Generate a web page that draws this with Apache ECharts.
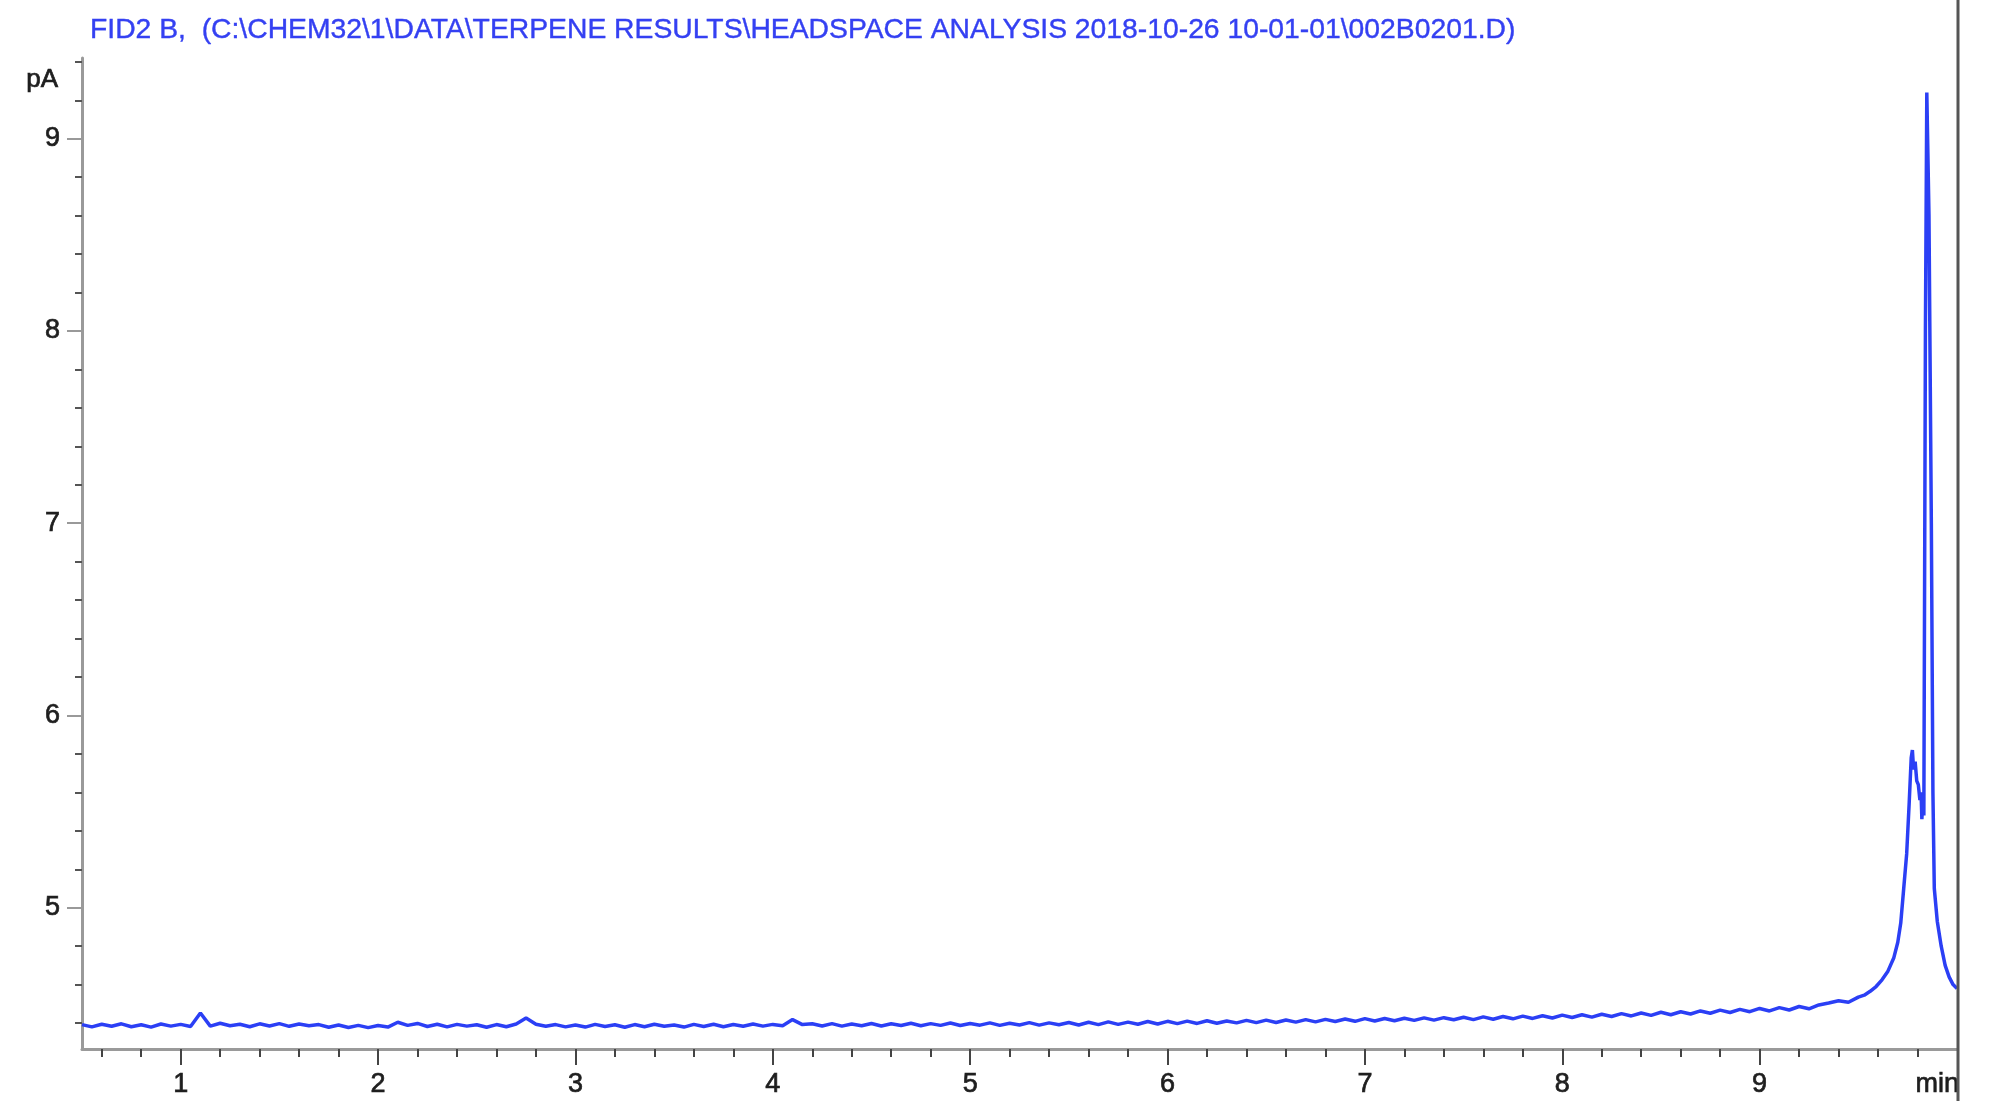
<!DOCTYPE html>
<html>
<head>
<meta charset="utf-8">
<script src="https://cdn.jsdelivr.net/npm/echarts@6/dist/echarts.min.js"></script>
<style>
html,body{margin:0;padding:0;background:#fff;}
#c{width:1990px;height:1101px;}
</style>
</head>
<body>
<div id="c"></div>
<script>
const titleText = 'FID2 B,  (C:\\CHEM32\\1\\DATA\\TERPENE RESULTS\\HEADSPACE ANALYSIS 2018-10-26 10-01-01\\002B0201.D)';
const yUnit = 'pA';
const xUnit = 'min';

// retention time (min)
const times = [
0.50,0.55,0.60,0.65,0.70,0.75,0.80,0.85,0.90,0.95,1.00,1.05,1.10,1.15,1.20,1.25,1.30,1.35,1.40,1.45,
1.50,1.55,1.60,1.65,1.70,1.75,1.80,1.85,1.90,1.95,2.00,2.05,2.10,2.15,2.20,2.25,2.30,2.35,2.40,2.45,
2.50,2.55,2.60,2.65,2.70,2.75,2.80,2.85,2.90,2.95,3.00,3.05,3.10,3.15,3.20,3.25,3.30,3.35,3.40,3.45,
3.50,3.55,3.60,3.65,3.70,3.75,3.80,3.85,3.90,3.95,4.00,4.05,4.10,4.15,4.20,4.25,4.30,4.35,4.40,4.45,
4.50,4.55,4.60,4.65,4.70,4.75,4.80,4.85,4.90,4.95,5.00,5.05,5.10,5.15,5.20,5.25,5.30,5.35,5.40,5.45,
5.50,5.55,5.60,5.65,5.70,5.75,5.80,5.85,5.90,5.95,6.00,6.05,6.10,6.15,6.20,6.25,6.30,6.35,6.40,6.45,
6.50,6.55,6.60,6.65,6.70,6.75,6.80,6.85,6.90,6.95,7.00,7.05,7.10,7.15,7.20,7.25,7.30,7.35,7.40,7.45,
7.50,7.55,7.60,7.65,7.70,7.75,7.80,7.85,7.90,7.95,8.00,8.05,8.10,8.15,8.20,8.25,8.30,8.35,8.40,8.45,
8.50,8.55,8.60,8.65,8.70,8.75,8.80,8.85,8.90,8.95,9.00,9.05,9.10,9.15,9.20,9.25,9.30,9.35,9.40,9.45,
9.50,9.53,9.56,9.59,9.62,9.65,9.68,9.70,9.715,9.73,9.745,9.758,9.768,9.774,9.780,9.788,9.796,9.804,9.812,9.818,
9.822,9.827,9.832,9.840,9.847,9.858,9.870,9.878,9.885,9.900,9.920,9.940,9.960,9.980,10.00
];
// FID signal (pA)
const signal = [
4.392,4.380,4.394,4.383,4.396,4.381,4.391,4.379,4.395,4.384,4.393,4.382,4.452,4.384,4.399,4.386,4.394,4.381,4.396,4.385,
4.397,4.383,4.395,4.386,4.392,4.378,4.390,4.377,4.388,4.376,4.387,4.379,4.404,4.388,4.398,4.382,4.394,4.380,4.393,4.384,
4.391,4.378,4.392,4.381,4.395,4.426,4.394,4.383,4.392,4.380,4.390,4.379,4.393,4.382,4.391,4.378,4.392,4.381,4.394,4.383,
4.390,4.379,4.393,4.382,4.394,4.381,4.392,4.383,4.395,4.384,4.393,4.386,4.418,4.392,4.396,4.385,4.397,4.384,4.395,4.386,
4.398,4.385,4.396,4.387,4.399,4.386,4.397,4.388,4.400,4.387,4.398,4.389,4.401,4.388,4.399,4.390,4.402,4.389,4.401,4.391,
4.403,4.390,4.404,4.392,4.406,4.393,4.405,4.394,4.408,4.395,4.409,4.397,4.410,4.398,4.412,4.399,4.411,4.401,4.414,4.402,
4.415,4.403,4.416,4.405,4.418,4.406,4.419,4.408,4.421,4.409,4.423,4.411,4.424,4.412,4.425,4.414,4.427,4.415,4.428,4.417,
4.430,4.418,4.432,4.420,4.434,4.422,4.436,4.424,4.438,4.426,4.441,4.429,4.443,4.431,4.446,4.434,4.449,4.437,4.452,4.440,
4.456,4.443,4.459,4.447,4.463,4.451,4.467,4.455,4.471,4.459,4.476,4.463,4.480,4.468,4.486,4.474,4.494,4.504,4.516,4.508,
4.535,4.545,4.565,4.590,4.625,4.670,4.740,4.820,4.920,5.100,5.280,5.550,5.780,5.820,5.720,5.760,5.660,5.640,5.560,5.600,
5.460,5.560,5.480,8.000,9.240,8.600,7.000,5.600,5.100,4.930,4.800,4.700,4.640,4.600,4.580
];

const xMajorTicks = [1,2,3,4,5,6,7,8,9];
const xMinorTicks = [0.6,0.8,1.2,1.4,1.6,1.8,2.2,2.4,2.6,2.8,3.2,3.4,3.6,3.8,4.2,4.4,4.6,4.8,
  5.2,5.4,5.6,5.8,6.2,6.4,6.6,6.8,7.2,7.4,7.6,7.8,8.2,8.4,8.6,8.8,9.2,9.4,9.6,9.8];
const yMajorTicks = [5,6,7,8,9];
const yMinorTicks = [4.4,4.6,4.8,5.2,5.4,5.6,5.8,6.2,6.4,6.6,6.8,7.2,7.4,7.6,7.8,8.2,8.4,8.6,8.8,9.2,9.4];
const xRange = [0.5, 10.0];
const yRange = [4.265, 9.42];

const FONT = '"Liberation Sans", Arial, Helvetica, sans-serif';
const chart = echarts.init(document.getElementById('c'), null, {renderer:'canvas'});

const seriesData = times.map((t, i) => [t, signal[i]]);
const labelStyle = {fontFamily: FONT, fontSize: 27, color: '#1e1e1e', textBorderColor: '#1e1e1e', textBorderWidth: 0.7};

const option = {
  animation: false,
  backgroundColor: '#ffffff',
  title: {
    text: titleText,
    left: 85, top: 11,
    textStyle: {fontFamily: FONT, fontSize: 28.3, fontWeight: 'normal', color: '#3440f2', textBorderColor: '#3440f2', textBorderWidth: 0.4}
  },
  grid: {left: 82, right: 33, top: 58, bottom: 52, containLabel: false},
  xAxis: [
    {
      type: 'value', position: 'bottom', min: xRange[0], max: xRange[1],
      axisLine: {show: true, onZero: false, lineStyle: {color: '#9a9a9a', width: 3}},
      axisTick: {show: true, customValues: xMajorTicks, length: 16, lineStyle: {color: '#444', width: 2}},
      axisLabel: Object.assign({show: true, customValues: xMajorTicks, margin: 22}, labelStyle),
      splitLine: {show: false},
      name: xUnit, nameLocation: 'end', nameGap: 2,
      nameTextStyle: Object.assign({align: 'right', verticalAlign: 'top', padding: [22, 0, 0, 0]}, labelStyle)
    },
    {
      type: 'value', position: 'bottom', min: xRange[0], max: xRange[1],
      axisLine: {show: false, onZero: false},
      axisTick: {show: true, customValues: xMinorTicks, length: 8, lineStyle: {color: '#444', width: 2}},
      axisLabel: {show: false},
      splitLine: {show: false}
    }
  ],
  yAxis: [
    {
      type: 'value', position: 'left', min: yRange[0], max: yRange[1],
      axisLine: {show: true, onZero: false, lineStyle: {color: '#9a9a9a', width: 3}},
      axisTick: {show: true, customValues: yMajorTicks, length: 15, lineStyle: {color: '#999', width: 2}},
      axisLabel: Object.assign({show: true, customValues: yMajorTicks, margin: 22}, labelStyle),
      splitLine: {show: false},
      name: yUnit, nameLocation: 'end', nameGap: -22,
      nameTextStyle: Object.assign({}, labelStyle, {fontSize: 26, align: 'right', verticalAlign: 'middle', padding: [0, 24, 0, 0]})
    },
    {
      type: 'value', position: 'left', min: yRange[0], max: yRange[1],
      axisLine: {show: false, onZero: false},
      axisTick: {show: true, customValues: yMinorTicks, length: 7, lineStyle: {color: '#555', width: 2}},
      axisLabel: {show: false},
      splitLine: {show: false}
    }
  ],
  series: [{
    type: 'line',
    xAxisIndex: 0, yAxisIndex: 0,
    data: seriesData,
    showSymbol: false,
    symbol: 'none',
    lineStyle: {color: '#2b3ff5', width: 3.5},
    clip: true,
    z: 3
  }]
};
chart.setOption(option);

const xr = chart.convertToPixel({xAxisIndex: 0}, xRange[1]);
chart.setOption({
  graphic: [{
    type: 'line', z: 100,
    shape: {x1: xr + 1, y1: 0, x2: xr + 1, y2: 1101},
    style: {stroke: '#555', lineWidth: 3}
  }]
});
</script>
</body>
</html>
